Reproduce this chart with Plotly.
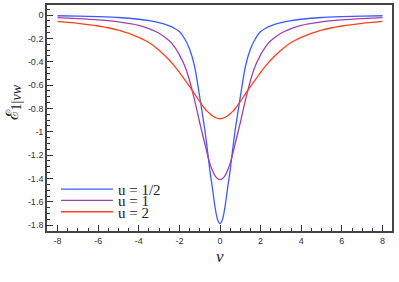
import plotly.graph_objects as go

# Data
v_vals = [-8, -7, -6, -5, -4, -3.5, -3, -2.5, -2.25, -2, -1.75, -1.5, -1.25, -1, -0.875, -0.75, -0.625, -0.5, -0.375, -0.25, -0.125, 0,
          0.125, 0.25, 0.375, 0.5, 0.625, 0.75, 0.875, 1, 1.25, 1.5, 1.75, 2, 2.25, 2.5, 3, 3.5, 4, 5, 6, 7, 8]

e_u_half = [-0.005, -0.008, -0.013, -0.020, -0.035, -0.047, -0.065, -0.092, -0.112, -0.14, -0.20, -0.29, -0.44, -0.70, -0.84, -0.98, -1.15, -1.33, -1.48, -1.64, -1.75, -1.787,
            -1.75, -1.64, -1.48, -1.33, -1.15, -0.98, -0.84, -0.70, -0.44, -0.29, -0.20, -0.14, -0.112, -0.092, -0.065, -0.047, -0.035, -0.020, -0.013, -0.008, -0.005]

e_u_one = [-0.022, -0.030, -0.041, -0.058, -0.088, -0.115, -0.155, -0.22, -0.27, -0.34, -0.43, -0.56, -0.73, -0.92, -1.01, -1.10, -1.19, -1.27, -1.33, -1.375, -1.40, -1.41,
           -1.40, -1.375, -1.33, -1.27, -1.19, -1.10, -1.01, -0.92, -0.73, -0.56, -0.43, -0.34, -0.27, -0.22, -0.155, -0.115, -0.088, -0.058, -0.041, -0.030, -0.022]

e_u_two = [-0.054, -0.070, -0.093, -0.128, -0.19, -0.235, -0.30, -0.385, -0.435, -0.49, -0.55, -0.61, -0.675, -0.74, -0.772, -0.80, -0.825, -0.845, -0.862, -0.875, -0.885, -0.888,
           -0.885, -0.875, -0.862, -0.845, -0.825, -0.80, -0.772, -0.74, -0.675, -0.61, -0.55, -0.49, -0.435, -0.385, -0.30, -0.235, -0.19, -0.128, -0.093, -0.070, -0.054]

series_names = ["u = 1/2", "u = 1", "u = 2"]
series_colors = ["#3b5bff", "#a040b0", "#ff4020"]

x_tick_vals = [-8, -6, -4, -2, 0, 2, 4, 6, 8]
x_tick_text = ["-8", "-6", "-4", "-2", "0", "2", "4", "6", "8"]
y_tick_vals = [0, -0.2, -0.4, -0.6, -0.8, -1, -1.2, -1.4, -1.6, -1.8]
y_tick_text = ["0", "-0.2", "-0.4", "-0.6", "-0.8", "-1", "-1.2", "-1.4", "-1.6", "-1.8"]

fig = go.Figure()
legends = ["legend", "legend2", "legend3"]
for ys, name, col, lg in zip([e_u_half, e_u_one, e_u_two], series_names, series_colors, legends):
    fig.add_trace(go.Scatter(x=v_vals, y=ys, mode="lines", name=name,
                             line=dict(color=col, width=1.3, shape="spline", smoothing=0.6),
                             legend=lg))

leg_common = dict(bgcolor="rgba(0,0,0,0)", borderwidth=0, xanchor="left", yanchor="middle",
                  font=dict(family="Liberation Serif", size=15, color="#222"), itemwidth=52)
ax_font = dict(family="Liberation Sans, Arial", size=9, color="#333")

fig.update_layout(
    width=399, height=282,
    margin=dict(l=47, r=7, t=5, b=51),
    paper_bgcolor="white", plot_bgcolor="white",
    showlegend=True,
    legend=dict(x=0.026, y=0.184, **leg_common),
    legend2=dict(x=0.026, y=0.134, **leg_common),
    legend3=dict(x=0.026, y=0.084, **leg_common),
    xaxis=dict(range=[-8.52, 8.47], tickvals=x_tick_vals, ticktext=x_tick_text,
               ticks="inside", ticklen=6, tickwidth=1.2, tickcolor="#333",
               minor=dict(ticks="inside", ticklen=3, dtick=0.5, tickcolor="#333", tickwidth=1),
               showgrid=False, zeroline=False, showline=True, linecolor="#444", linewidth=1.6,
               mirror=True, tickfont=ax_font, automargin=False),
    yaxis=dict(range=[-1.85, 0.087], tickvals=y_tick_vals, ticktext=y_tick_text,
               ticks="inside", ticklen=6, tickwidth=1.2, tickcolor="#333",
               minor=dict(ticks="inside", ticklen=3, dtick=0.05, tickcolor="#333", tickwidth=1),
               showgrid=False, zeroline=False, showline=True, linecolor="#444", linewidth=1.6,
               mirror=True, tickfont=ax_font, automargin=False),
    annotations=[
        dict(text="ℰ<sub><span style=\"font-size:14px\">1|<i>vw</i></span></sub>", xref="paper", yref="paper",
             x=-0.0957, y=0.569, xanchor="center", yanchor="middle",
             showarrow=False, textangle=-90, font=dict(family="Liberation Serif", size=17, color="#222")),
        dict(text="<i>v</i>", xref="paper", yref="paper", x=0.501, y=-0.113, xanchor="center", yanchor="middle",
             showarrow=False, font=dict(family="Liberation Serif", size=17, color="#222")),
    ],
)

fig.write_html("out.html", config={"displayModeBar": False},
               post_script="document.body.style.margin='0';document.body.style.padding='0';")
